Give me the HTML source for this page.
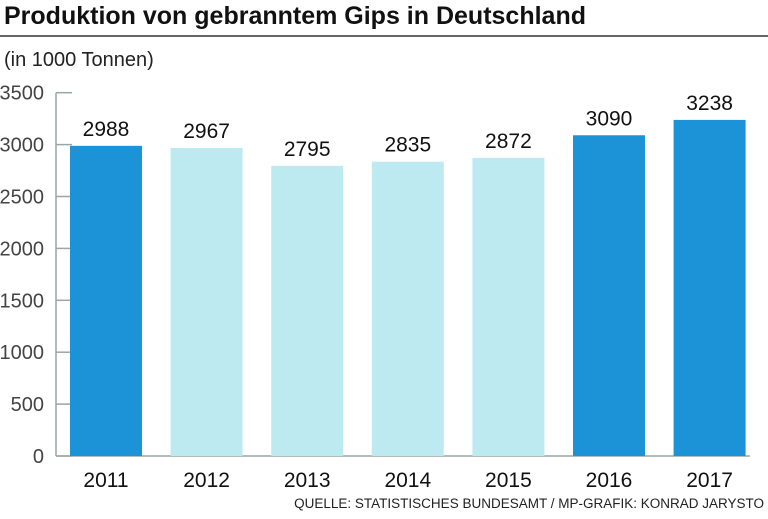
<!DOCTYPE html>
<html><head><meta charset="utf-8"><style>
body{margin:0;background:#fff;width:768px;height:514px;overflow:hidden;font-family:"Liberation Sans Narrow","Liberation Sans",sans-serif}
</style></head><body>
<svg width="768" height="514" xmlns="http://www.w3.org/2000/svg">
<text x="4" y="24" font-size="25" font-weight="bold" fill="#111">Produktion von gebranntem Gips in Deutschland</text>
<line x1="0" y1="36" x2="768" y2="36" stroke="#333" stroke-width="1.5"/>
<text x="4" y="66" font-size="20" fill="#222">(in 1000 Tonnen)</text>
<g id="axis"></g>
<g id="bars"></g>
<text x="764" y="508" font-size="13.5" text-anchor="end" fill="#222">QUELLE: STATISTISCHES BUNDESAMT / MP-GRAFIK: KONRAD JARYSTO</text>
</svg>
<script>
const categories=["2011","2012","2013","2014","2015","2016","2017"];
const values=[2988,2967,2795,2835,2872,3090,3238];
const highlight=[true,false,false,false,false,true,true];
const ticks=[0,500,1000,1500,2000,2500,3000,3500];
const NS="http://www.w3.org/2000/svg";
const y0=456,yMax=3500,yTop=92.7;
const y=v=>y0-(v/yMax)*(y0-yTop);
const x=i=>70+i*100.6;
const bw=72;
function mk(t,a,p){const e=document.createElementNS(NS,t);for(const k in a)e.setAttribute(k,a[k]);p.appendChild(e);return e;}
const ax=document.getElementById('axis'),bg=document.getElementById('bars');
const al=mk('line',{x1:56,y1:yTop,x2:56,y2:y0,stroke:'#9aa5a5','stroke-width':1.5},ax);


ticks.forEach(t=>{
 const l=mk('line',{x1:56,x2:72,y1:y(t),y2:y(t),stroke:'#9aa5a5','stroke-width':1.5},ax);
 
 
 const tx=mk('text',{x:44,y:y(t)+7,'font-size':20,'text-anchor':'end',fill:'#444'},ax);
 tx.textContent=t;
 
 
});
categories.forEach((c,i)=>{
 const r=mk('rect',{x:x(i),y:y(values[i]),width:bw,height:y0-y(values[i]),fill:highlight[i]?'#1b93d6':'#bde9f0'},bg);
 
 
 const v=mk('text',{x:x(i)+bw/2,y:y(values[i])-10,'font-size':21,'text-anchor':'middle',fill:'#111'},bg);
 v.textContent=values[i];
 
 
 const cl=mk('text',{x:x(i)+bw/2,y:487,'font-size':21,'text-anchor':'middle',fill:'#111'},bg);
 cl.textContent=c;
 
 
});
const bl=mk('line',{x1:56,x2:750,y1:y0,y2:y0,stroke:'#9aa5a5','stroke-width':1.5},ax);


</script>
</body></html>
